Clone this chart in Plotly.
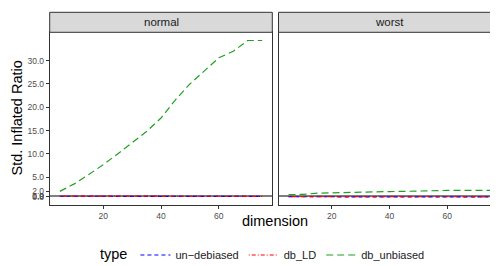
import plotly.graph_objects as go

dimension = [5, 10, 15, 20, 25, 30, 35, 40, 45, 50, 55, 60, 65, 70, 75]

normal_undebiased = [0.95, 0.96, 0.95, 0.96, 0.95, 0.94, 0.95, 0.94, 0.93, 0.94, 0.93, 0.94, 0.93, 0.93, 0.93]
normal_dbLD = [0.97, 0.98, 0.96, 0.97, 0.96, 0.95, 0.96, 0.95, 0.94, 0.95, 0.94, 0.95, 0.94, 0.94, 0.94]
normal_dbunbiased = [2.0, 3.6, 5.6, 7.7, 10.0, 12.4, 14.8, 17.7, 21.6, 25.0, 27.7, 30.6, 32.0, 34.3, 34.3]

worst_undebiased = [0.85, 0.84, 0.83, 0.83, 0.82, 0.82, 0.82, 0.81, 0.81, 0.81, 0.81, 0.8, 0.8, 0.8, 0.8]
worst_dbLD = [0.88, 0.87, 0.86, 0.86, 0.85, 0.85, 0.85, 0.84, 0.84, 0.84, 0.84, 0.83, 0.83, 0.83, 0.83]
worst_dbunbiased = [1.3, 1.35, 1.6, 1.7, 1.75, 1.8, 1.85, 1.95, 2.0, 2.1, 2.15, 2.2, 2.2, 2.2, 2.2]

type_names = ["un\u2212debiased", "db_LD", "db_unbiased"]
colors = ["#0000FF", "#FF0000", "#1FA01F"]
dashes = ["4px,3px", "1px,2px,4px,2px", "7px,4px"]
panels = ["normal", "worst"]

ytickvals = [0.8, 0.9, 1.0, 2.0, 5.0, 10.0, 15.0, 20.0, 25.0, 30.0]
yticktext = ["0.8", "0.9", "1.0", "2.0", "5.0", "10.0", "15.0", "20.0", "25.0", "30.0"]

FONT = "Liberation Sans, Arial, sans-serif"

fig = go.Figure()

series = {
    "normal": [normal_undebiased, normal_dbLD, normal_dbunbiased],
    "worst": [worst_undebiased, worst_dbLD, worst_dbunbiased],
}

for p_i, panel in enumerate(panels):
    xa = "x" if p_i == 0 else "x2"
    ya = "y" if p_i == 0 else "y2"
    # reference line at 1
    fig.add_trace(go.Scatter(x=[1.5, 78.5], y=[1, 1], mode="lines",
                             line=dict(color="black", width=1.1),
                             showlegend=False, hoverinfo="skip",
                             xaxis=xa, yaxis=ya))
    for t_i, name in enumerate(type_names):
        fig.add_trace(go.Scatter(
            x=dimension, y=series[panel][t_i], mode="lines", name=name,
            line=dict(color=colors[t_i], width=1.2, dash=dashes[t_i]),
            showlegend=(p_i == 0), legendgroup=name,
            xaxis=xa, yaxis=ya))

W, H = 498, 266
ytop = 24.3
ybot = 196.7
strip_top = 4.3
d1 = [41.7 / W, 264.3 / W]
d2 = [270.5 / W, 492.5 / W]
ydom = [1 - ybot / H, 1 - ytop / H]

axis_common = dict(showgrid=False, zeroline=False, showline=True, mirror=True,
                   linecolor="#333333", linewidth=1, ticks="outside", ticklen=3,
                   tickcolor="#333333", tickfont=dict(size=8.5, color="#4D4D4D", family=FONT))

xr = [1.5, 78.5]
yr = [-0.86, 36.06]

fig.update_layout(
    width=W, height=H,
    margin=dict(l=0, r=0, t=0, b=0),
    paper_bgcolor="white", plot_bgcolor="white",
    font=dict(family=FONT),
    xaxis=dict(domain=d1, range=xr, tickvals=[20, 40, 60], anchor="y", **axis_common),
    xaxis2=dict(domain=d2, range=xr, tickvals=[20, 40, 60], anchor="y2", **axis_common),
    yaxis=dict(domain=ydom, range=yr, tickvals=ytickvals, ticktext=yticktext, anchor="x", **axis_common),
    yaxis2=dict(domain=ydom, range=yr, tickvals=ytickvals, ticktext=yticktext,
                showticklabels=False, anchor="x2", **{k: v for k, v in axis_common.items() if k not in ("ticks",)}, ticks=""),
    showlegend=True,
    legend=dict(orientation="h", x=90 / W, xanchor="left", y=1 - 247 / H, yanchor="middle",
                title=dict(text="type", font=dict(size=14.5, color="black", family=FONT), side="left"),
                font=dict(size=11, color="#1A1A1A", family=FONT),
                itemwidth=30, bgcolor="rgba(0,0,0,0)"),
)

# strips
for dom, label in zip([d1, d2], panels):
    fig.add_shape(type="rect", xref="paper", yref="paper",
                  x0=dom[0], x1=dom[1], y0=ydom[1], y1=1 - strip_top / H,
                  fillcolor="#D9D9D9", line=dict(color="#333333", width=1), layer="above")
    fig.add_annotation(xref="paper", yref="paper", x=(dom[0] + dom[1]) / 2,
                       y=(ydom[1] + 1 - strip_top / H) / 2, text=label, showarrow=False,
                       font=dict(size=11.5, color="#1A1A1A", family=FONT),
                       xanchor="center", yanchor="middle")

# axis titles
fig.add_annotation(xref="paper", yref="paper", x=(d1[0] + d2[1]) / 2, y=1 - 213 / H,
                   text="dimension", showarrow=False,
                   font=dict(size=14.5, color="black", family=FONT), xanchor="center", yanchor="middle")
fig.add_annotation(xref="paper", yref="paper", x=8 / W, y=(ydom[0] + ydom[1]) / 2,
                   text="Std. Inflated Ratio", showarrow=False, textangle=-90,
                   font=dict(size=14.5, color="black", family=FONT), xanchor="center", yanchor="middle")

fig.write_html("out.html")
